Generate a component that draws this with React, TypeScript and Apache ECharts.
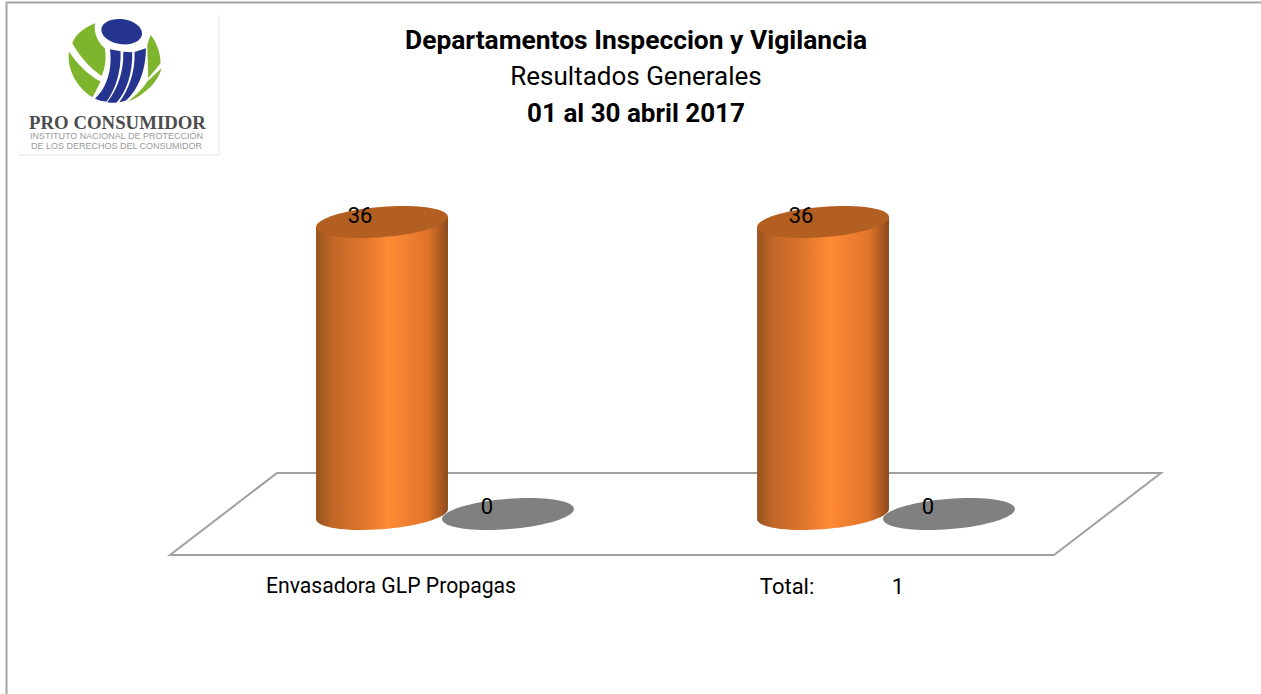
import React, { useEffect, useRef } from "react";
import * as echarts from "echarts";

const categories = ["Envasadora GLP Propagas", "Total:"];
const totalValue = "1";
const orangeValues = [36, 36];
const grayValues = [0, 0];
const titleLines = ["Departamentos Inspeccion y Vigilancia", "Resultados Generales", "01 al 30 abril 2017"];
const FONT = "Roboto, 'Liberation Sans', Arial, sans-serif";

const BLUE = [
  "M150 118 L182 124 C184 190 165 240 140 275 Q120 275 105 266 C140 235 158 180 150 118Z",
  "M190 125 L217 127 C218 190 200 245 170 278 Q155 280 142 277 C170 240 192 190 190 125Z",
  "M224 126 L258 115 C258 180 235 240 198 272 Q188 276 178 277 C205 240 226 190 224 126Z",
];
const GREEN = [
  "M105 40 C70 55 45 75 37 100 C60 140 90 175 125 198 C135 175 140 150 135 115 C115 100 100 70 105 40Z",
  "M27 125 C20 170 45 230 98 262 L122 215 C85 195 50 160 27 125Z",
  "M272 75 C290 95 302 130 302 160 L265 205 C265 170 262 130 262 105Z",
  "M305 175 C295 215 255 255 205 275 C235 250 250 235 262 215Z",
];
BLUE.forEach((d, i) => echarts.graphic.registerShape("logoBlue" + i, echarts.graphic.extendPath(d, {}) as any));
GREEN.forEach((d, i) => echarts.graphic.registerShape("logoGreen" + i, echarts.graphic.extendPath(d, {}) as any));

const THETA = (4.6 * Math.PI) / 180;

function makeRender(side: number, topFill: string, bodyStops: { offset: number; color: string }[], labelDx: number, labelDy: number) {
  return (_params: any, api: any) => {
    const cat = api.value(0);
    const val = api.value(1);
    const band = api.size([1, 0])[0];
    const [cx0, top] = api.coord([cat, val]);
    const [, base] = api.coord([cat, 0]);
    const cx = cx0 + side * band * 0.1428;
    const a = band * 0.15;
    const b = band * 0.0344;
    const pt = (cy: number, t: number) => [
      cx + a * Math.cos(t) * Math.cos(THETA) + b * Math.sin(t) * Math.sin(THETA),
      cy - a * Math.cos(t) * Math.sin(THETA) + b * Math.sin(t) * Math.cos(THETA),
    ];
    const t0 = Math.atan2(b * Math.sin(THETA), a * Math.cos(THETA));
    const ring: number[][] = [];
    for (let i = 0; i < 72; i++) ring.push(pt(top, (i / 72) * Math.PI * 2));
    const children: any[] = [];
    if (top < base - 0.5) {
      const body: number[][] = [];
      for (let i = 0; i <= 36; i++) body.push(pt(base, t0 + (i / 36) * Math.PI));
      body.push(pt(top, t0 + Math.PI));
      body.push(pt(top, t0));
      children.push({
        type: "polygon",
        shape: { points: body },
        style: { fill: new echarts.graphic.LinearGradient(0, 0, 1, 0, bodyStops) },
      });
    }
    children.push({ type: "polygon", shape: { points: ring }, style: { fill: topFill } });
    children.push({
      type: "text",
      x: cx + labelDx,
      y: top + labelDy,
      style: { text: String(val), fill: "#000", font: `22px ${FONT}`, align: "center", verticalAlign: "middle" },
    });
    return { type: "group", children };
  };
}

const orangeStops = [
  { offset: 0, color: "#96521f" },
  { offset: 0.12, color: "#c06728" },
  { offset: 0.35, color: "#dd752c" },
  { offset: 0.55, color: "#ff8a35" },
  { offset: 0.85, color: "#e0742b" },
  { offset: 1, color: "#8c4a1b" },
];

export default function App() {
  const ref = useRef<HTMLDivElement>(null);
  useEffect(() => {
    document.body.style.margin = "0";
    const chart = echarts.init(ref.current!, null, { renderer: "svg" });
    const logo = [
      ...GREEN.map((_, i) => ({ type: "logoGreen" + i, x: 60, y: 10, scaleX: 1 / 3, scaleY: 1 / 3, style: { fill: "#7fb52d" } })),
      ...BLUE.map((_, i) => ({ type: "logoBlue" + i, x: 60, y: 10, scaleX: 1 / 3, scaleY: 1 / 3, style: { fill: "#24348f" } })),
    ];
    chart.setOption({
      animation: false,
      backgroundColor: "#fff",
      title: titleLines.map((t, i) => ({
        text: t,
        left: 636,
        top: [26, 62, 99][i],
        textAlign: "center",
        padding: 0,
        textStyle: { fontFamily: FONT, color: "#000", fontSize: i === 0 ? 26.4 : 26, lineHeight: 28, fontWeight: i === 1 ? "normal" : "bold" },
      })),
      grid: { left: 224.5, width: 882, top: 222, height: 292 },
      xAxis: {
        type: "category",
        data: categories,
        axisLine: { show: false },
        axisTick: { show: false },
        axisLabel: {
          margin: 61,
          fontFamily: FONT,
          fontSize: 21.2,
          color: "#000",
          interval: 0,
          formatter: (v: string, i: number) => (i === 1 ? `{t|${v}}{v|${totalValue}}` : `{e|${v}}`),
          rich: {
            e: { fontFamily: FONT, fontSize: 21.2, color: "#000", padding: [0, 108, 0, 0] },
            t: { fontFamily: FONT, fontSize: 22, color: "#000", width: 132, align: "left" },
            v: { fontFamily: FONT, fontSize: 22, color: "#000", padding: [0, 108, 0, 0] },
          },
        },
      },
      yAxis: { type: "value", min: 0, max: 36, show: false, splitLine: { show: false } },
      graphic: [
        { type: "line", shape: { x1: 6, y1: 2.5, x2: 1261, y2: 2.5 }, style: { stroke: "#a6a6a6", lineWidth: 2 } },
        { type: "line", shape: { x1: 6.5, y1: 2, x2: 6.5, y2: 694 }, style: { stroke: "#a6a6a6", lineWidth: 2 } },
        { type: "line", shape: { x1: 219, y1: 15, x2: 219, y2: 155 }, style: { stroke: "#ececec", lineWidth: 1.5 } },
        { type: "line", shape: { x1: 18, y1: 155, x2: 219, y2: 155 }, style: { stroke: "#ececec", lineWidth: 1.5 } },
        ...logo,
        { type: "ellipse", x: 121.7, y: 31.7, rotation: (-8 * Math.PI) / 180, shape: { cx: 0, cy: 0, rx: 20.5, ry: 12.5 }, style: { fill: "#24348f" } },
        { type: "text", x: 117.5, y: 122.5, style: { text: "PRO CONSUMIDOR", font: "bold 18.8px 'Liberation Serif', serif", fill: "#4d4d4d", align: "center", verticalAlign: "middle" } },
        { type: "text", x: 116.5, y: 136, style: { text: "INSTITUTO NACIONAL DE PROTECCIÓN", font: "9px 'Liberation Sans', sans-serif", fill: "#9a9a9a", align: "center", verticalAlign: "middle" } },
        { type: "text", x: 116.5, y: 146, style: { text: "DE LOS DERECHOS DEL CONSUMIDOR", font: "9px 'Liberation Sans', sans-serif", fill: "#9a9a9a", align: "center", verticalAlign: "middle" } },
        { type: "polygon", z: -1, shape: { points: [[170, 555], [1054, 555], [1161, 473], [277, 473]] }, style: { fill: "none", stroke: "#a0a0a0", lineWidth: 2 } },
      ],
      series: [
        {
          type: "custom",
          z: 3,
          clip: false,
          data: orangeValues.map((v, i) => [i, v]),
          encode: { x: 0, y: 1 },
          renderItem: makeRender(-1, "#b35f22", orangeStops, -22, -7),
        },
        {
          type: "custom",
          z: 4,
          clip: false,
          data: grayValues.map((v, i) => [i, v]),
          encode: { x: 0, y: 1 },
          renderItem: makeRender(1, "#808080", orangeStops, -21, -8),
        },
      ],
    });
    return () => chart.dispose();
  }, []);
  return <div ref={ref} style={{ width: 1261, height: 694 }} />;
}
